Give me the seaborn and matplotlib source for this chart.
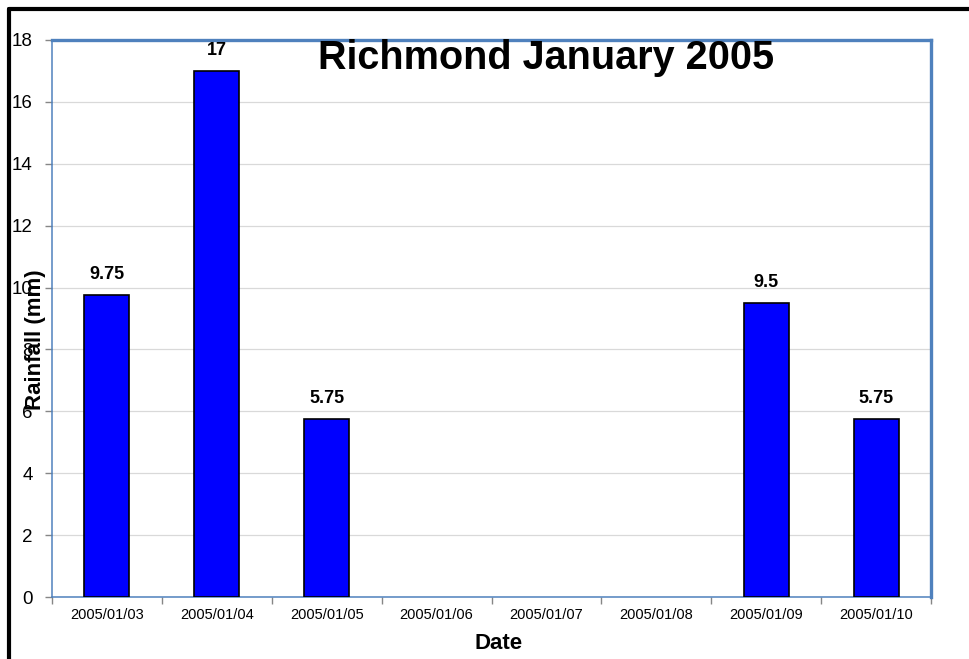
import numpy as np
import pandas as pd
import matplotlib
matplotlib.use("Agg")
import matplotlib.pyplot as plt
from matplotlib.lines import Line2D
import seaborn as sns

dates = ['2005/01/03', '2005/01/04', '2005/01/05', '2005/01/06',
         '2005/01/07', '2005/01/08', '2005/01/09', '2005/01/10']
rainfall = [9.75, 17, 5.75, 0, 0, 0, 9.5, 5.75]
y_ticks = [0, 2, 4, 6, 8, 10, 12, 14, 16, 18]

sns.set_style('white')
plt.rcParams['font.family'] = ['Liberation Sans', 'DejaVu Sans']
plt.rcParams['text.color'] = 'black'
plt.rcParams['xtick.color'] = 'black'
plt.rcParams['ytick.color'] = 'black'

df = pd.DataFrame({'date': dates, 'rain': rainfall})

W, H = 969, 659
fig = plt.figure(figsize=(W / 100, H / 100), dpi=100)
ax = fig.add_axes([52 / W, 1 - 597 / H, (931 - 52) / W, (597 - 40) / H])

sns.barplot(data=df, x='date', y='rain', color='#0000FF', saturation=1,
            width=0.41, edgecolor='black', linewidth=1.2, ax=ax, zorder=3)
# empty days show no bar outline
for p in ax.patches:
    if p.get_height() == 0:
        p.set_linewidth(0)

ax.set_ylim(0, 18)
ax.set_xlim(-0.5, len(dates) - 0.5)
ax.set_yticks(y_ticks)
ax.yaxis.grid(True, color='#D9D9D9', linewidth=0.9, zorder=0)
ax.set_axisbelow(True)

# category boundary ticks
ax.set_xticks(np.arange(-0.5, len(dates)), minor=True)
ax.tick_params(axis='x', which='major', bottom=True, length=0, pad=8, labelsize=10.5)
ax.tick_params(axis='x', which='minor', bottom=True, length=5, width=1, color='#868686', direction='out')
ax.tick_params(axis='y', left=True, length=5, width=1, color='#868686', direction='out', pad=9, labelsize=13.5)

for s in ['top', 'right']:
    ax.spines[s].set_color('#4F81BD')
    ax.spines[s].set_linewidth(2.4)
for s in ['left', 'bottom']:
    ax.spines[s].set_color('#4F81BD')
    ax.spines[s].set_linewidth(1.1)

for i, v in enumerate(rainfall):
    if v > 0:
        ax.annotate(f'{v:g}', (i, v), xytext=(0, 11.5), textcoords='offset points',
                    ha='center', va='baseline', fontsize=13, fontweight='bold')

ax.text(0.5626, 0.948, 'Richmond January 2005', transform=ax.transAxes,
        ha='center', va='baseline', fontsize=28.5, fontweight='bold')

ax.set_xlabel('')
ax.set_ylabel('')
fig.text(499 / W, 1 - 649 / H, 'Date', ha='center', va='baseline',
         fontsize=16, fontweight='bold')
fig.text(35 / W, 1 - 340 / H, 'Rainfall (mm)', rotation=90, ha='center', va='center',
         fontsize=16, fontweight='bold')

# outer frame (left and top only)
fig.add_artist(Line2D([9 / W, 9 / W], [0, 1 - 9 / H], transform=fig.transFigure,
                      color='black', linewidth=3))
fig.add_artist(Line2D([9 / W, 1], [1 - 9 / H, 1 - 9 / H], transform=fig.transFigure,
                      color='black', linewidth=3))

fig.savefig('out.png', dpi=100)
